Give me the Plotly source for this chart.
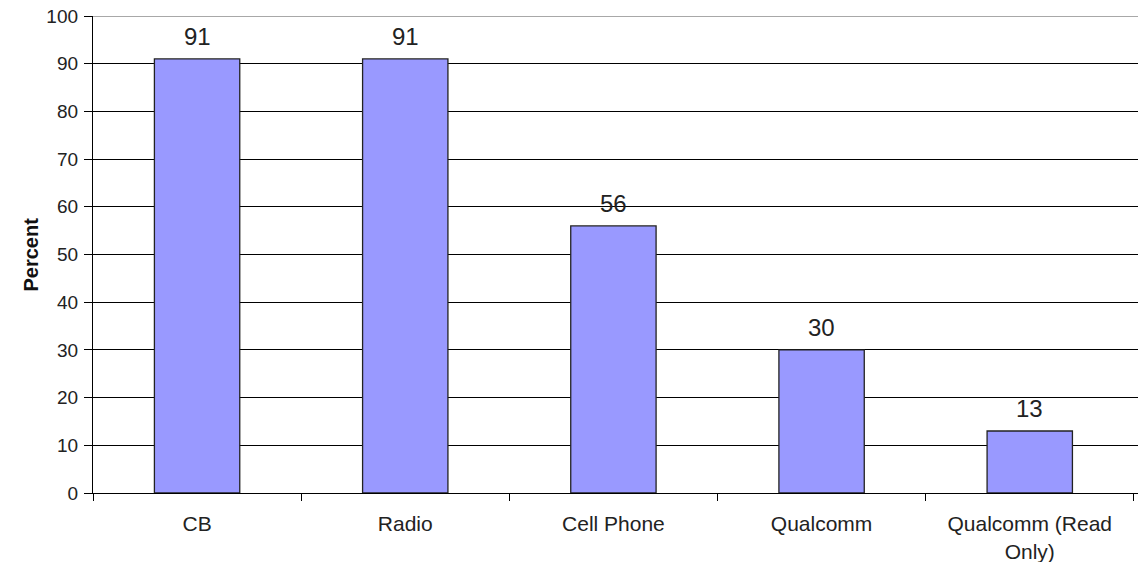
import plotly.graph_objects as go

categories = ["CB", "Radio", "Cell Phone", "Qualcomm", "Qualcomm (Read<br>Only)"]
values = [91, 91, 56, 30, 13]
y_ticks = [0, 10, 20, 30, 40, 50, 60, 70, 80, 90, 100]
y_title = "Percent"

W, H = 1138, 562
L, R, T, B = 93, 0, 16, 69
pw = W - L - R

fig = go.Figure()
fig.add_trace(go.Bar(
    x=categories, y=values,
    width=0.41,
    marker=dict(color="#9999FF", line=dict(color="#222222", width=1.3)),
    hoverinfo="skip",
))

for c, v in zip(categories, values):
    fig.add_annotation(x=c, y=v, text=str(v), showarrow=False,
                       yanchor="bottom", yshift=7,
                       font=dict(family="Liberation Sans, Arial", size=24, color="#222222"))

fig.add_annotation(xref="paper", yref="paper", x=(17 - L) / pw, y=0.5,
                   text="<b>" + y_title + "</b>", textangle=-90, showarrow=False,
                   font=dict(family="Liberation Sans, Arial", size=20, color="#111111"))

# lighter top border line at 100
fig.add_shape(type="line", xref="paper", yref="y", x0=0, x1=1, y0=y_ticks[-1], y1=y_ticks[-1],
              line=dict(color="#A8A8A8", width=2), layer="above")

fig.update_layout(
    width=W, height=H,
    margin=dict(l=L, r=R, t=T, b=B, autoexpand=False),
    paper_bgcolor="white", plot_bgcolor="white",
    showlegend=False,
    font=dict(family="Liberation Sans, Arial", size=13, color="#222222"),
)
fig.update_xaxes(
    range=[-0.5, 4.52], tickson="boundaries", ticks="outside", ticklen=7,
    tickcolor="black", tickwidth=1.3,
    showline=True, linecolor="black", linewidth=1.3,
    showgrid=False, ticklabelstandoff=12, automargin=False,
    tickfont=dict(size=21),
)
fig.update_yaxes(
    range=[0, 100], tickvals=y_ticks, ticks="outside", ticklen=8,
    tickcolor="black", tickwidth=1.3,
    showline=True, linecolor="black", linewidth=1.3,
    showgrid=True, gridcolor="black", gridwidth=1.2,
    zeroline=False, tickfont=dict(size=19), ticklabelstandoff=2, automargin=False,
)

fig.write_html("out.html")
